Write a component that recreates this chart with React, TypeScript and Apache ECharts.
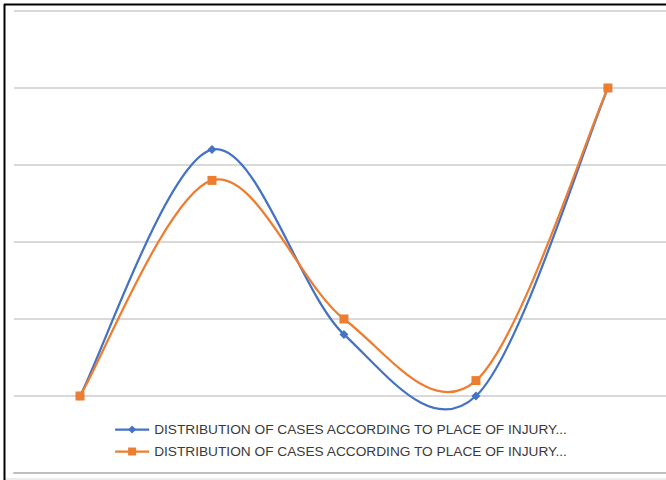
import React, { useEffect, useRef } from "react";
import * as echarts from "echarts";

const categories = ["1", "2", "3", "4", "5"];
const seriesNames = [
  "DISTRIBUTION OF CASES ACCORDING TO PLACE OF INJURY...",
  "DISTRIBUTION OF CASES ACCORDING TO PLACE OF INJURY... ",
];
const blueValues = [1, 4.2, 1.8, 1, 5];
const orangeValues = [1, 3.8, 2, 1.2, 5];

const BLUE = "#4472C4";
const ORANGE = "#ED7D31";

function pairs(values: number[]) {
  return categories.map((_, i) => [i, values[i]]);
}

// Catmull-Rom spline (Excel-like smoothing) drawn segment by segment
function makeSpline(values: number[], color: string) {
  return {
    type: "custom",
    silent: true,
    z: 2,
    data: pairs(values),
    encode: { x: 0, y: 1 },
    renderItem: (params: any, api: any) => {
      const i = params.dataIndex;
      const n = values.length;
      if (i >= n - 1) return null;
      const p = (k: number) => {
        const kk = Math.max(0, Math.min(n - 1, k));
        return api.coord([kk, values[kk]]);
      };
      const p0 = p(i - 1);
      const p1 = p(i);
      const p2 = p(i + 1);
      const p3 = p(i + 2);
      const c1 = [p1[0] + (p2[0] - p0[0]) / 6, p1[1] + (p2[1] - p0[1]) / 6];
      const c2 = [p2[0] - (p3[0] - p1[0]) / 6, p2[1] - (p3[1] - p1[1]) / 6];
      return {
        type: "bezierCurve",
        shape: {
          x1: p1[0], y1: p1[1],
          cpx1: c1[0], cpy1: c1[1],
          cpx2: c2[0], cpy2: c2[1],
          x2: p2[0], y2: p2[1],
        },
        style: { stroke: color, lineWidth: 2.25, fill: "none" },
      };
    },
  };
}

export default function App() {
  const ref = useRef<HTMLDivElement>(null);
  useEffect(() => {
    document.body.style.margin = "0";
    const chart = echarts.init(ref.current!, null, { renderer: "svg" });
    chart.setOption({
      animation: false,
      backgroundColor: "#ffffff",
      grid: { left: 14, top: 11, right: 0, bottom: 7, containLabel: false },
      xAxis: {
        type: "value",
        min: -0.5,
        max: 4.44,
        axisLine: { show: true, onZero: false, lineStyle: { color: "#bfbfbf", width: 2 } },
        axisTick: { show: false },
        axisLabel: { show: false },
        splitLine: { show: false },
      },
      yAxis: {
        type: "value",
        min: 0,
        max: 6,
        interval: 1,
        axisLine: { show: false },
        axisTick: { show: false },
        axisLabel: { show: false },
        splitLine: { show: true, lineStyle: { color: "#d9d9d9", width: 2 } },
      },
      legend: {
        orient: "vertical",
        left: 109,
        top: 416.5,
        itemWidth: 34,
        itemHeight: 10,
        itemGap: 6,
        textStyle: { fontFamily: "Liberation Sans", fontSize: 13.7, lineHeight: 16, color: "#3a3a3a" },
        data: [
          { name: seriesNames[0], lineStyle: { color: BLUE, width: 2.25, opacity: 1 } },
          { name: seriesNames[1], lineStyle: { color: ORANGE, width: 2.25, opacity: 1 } },
        ],
      },
      graphic: [
        { type: "line", shape: { x1: 4, y1: 4.5, x2: 666, y2: 4.5 }, style: { stroke: "#000", lineWidth: 2 }, z: 100 },
        { type: "line", shape: { x1: 4.5, y1: 4, x2: 4.5, y2: 480 }, style: { stroke: "#000", lineWidth: 2 }, z: 100 },
        { type: "line", shape: { x1: 5, y1: 479, x2: 666, y2: 479 }, style: { stroke: "#d9d9d9", lineWidth: 1 } },
      ],
      series: [
        makeSpline(blueValues, BLUE),
        makeSpline(orangeValues, ORANGE),
        {
          name: seriesNames[0],
          type: "line",
          data: pairs(blueValues),
          symbol: "diamond",
          symbolSize: 9,
          z: 3,
          lineStyle: { color: BLUE, width: 2.25, opacity: 0 },
          itemStyle: { color: BLUE },
        },
        {
          name: seriesNames[1],
          type: "line",
          data: pairs(orangeValues),
          symbol: "rect",
          symbolSize: 9,
          z: 3,
          lineStyle: { color: ORANGE, width: 2.25, opacity: 0 },
          itemStyle: { color: ORANGE },
        },
      ],
    });
    return () => chart.dispose();
  }, []);
  return <div ref={ref} style={{ width: 666, height: 480 }} />;
}
